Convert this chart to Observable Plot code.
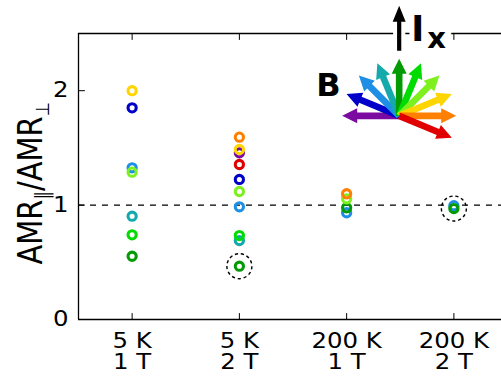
<!DOCTYPE html>
<html>
<head>
<meta charset="utf-8">
<script src="https://cdn.jsdelivr.net/npm/d3@7"></script>
<script src="https://cdn.jsdelivr.net/npm/@observablehq/plot@0.6"></script>
<style>
  html, body { margin: 0; padding: 0; background: #fff; overflow: hidden; }
</style>
</head>
<body>
<div id="chart"></div>
<script>
// Measurement conditions (temperature / field), one column each
const conditions = ["5 K\n1 T", "5 K\n2 T", "200 K\n1 T", "200 K\n2 T"];
const yTicks = [0, 1, 2];

// In-plane field directions, degrees counter-clockwise from the +x axis,
// and the colour used for each direction
const angles = [180, 157.5, 135, 112.5, 90, 67.5, 45, 22.5, 0, -22.5];
const angleColors = ["#7b0aa0", "#0000c8", "#1e8fe4", "#14a9ab", "#039b03",
                     "#00dc00", "#7ef020", "#ffd500", "#ff7f00", "#e00000"];

// AMR_parallel / AMR_perp for each condition, listed by field direction
const angles5K1T = [157.5, 135, 112.5, 90, 67.5, 45, 22.5];
const ratios5K1T = [1.85, 1.326, 0.903, 0.553, 0.74, 1.288, 2.0];

const angles5K2T = [180, 157.5, 135, 112.5, 90, 67.5, 45, 22.5, 0, -22.5];
const ratios5K2T = [1.457, 1.224, 0.985, 0.69, 0.466, 0.734, 1.119, 1.486, 1.594, 1.355];

const angles200K1T = [135, 90, 45, 0];
const ratios200K1T = [0.933, 0.976, 1.055, 1.099];

const angles200K2T = [135, 90];
const ratios200K2T = [0.995, 0.97];

// Points singled out with a dashed ring: [condition index, direction]
const flagged = [[2, 90], [4, 90]];

// ---- build the table ----
const columns = [
  [angles5K1T, ratios5K1T],
  [angles5K2T, ratios5K2T],
  [angles200K1T, ratios200K1T],
  [angles200K2T, ratios200K2T]
];
const points = columns.flatMap(([as, rs], i) =>
  as.map((a, j) => ({cond: i + 1, angle: a, ratio: rs[j]})));
// draw in direction order so later directions sit on top
points.sort((p, q) => angles.indexOf(p.angle) - angles.indexOf(q.angle));
const ringed = points.filter(p => flagged.some(([c, a]) => c === p.cond && a === p.angle));

// ---- vector shapes ----
function fatArrow(shaft, head, headLen) {
  return {
    draw(ctx, l) {
      const b = -(l - headLen);
      ctx.moveTo(-shaft, 0);
      ctx.lineTo(-shaft, b);
      ctx.lineTo(-head, b);
      ctx.lineTo(0, -l);
      ctx.lineTo(head, b);
      ctx.lineTo(shaft, b);
      ctx.lineTo(shaft, 0);
      ctx.closePath();
    }
  };
}
const tickShape = {draw(ctx, l) { ctx.moveTo(0, 0); ctx.lineTo(0, -l); }};

// origin of the field-direction sketch, in data units
const sketchX = 3.49, sketchY = 1.78;
const at = {x: () => sketchX, y: () => sketchY};

const chart = Plot.plot({
  width: 501,
  height: 381,
  marginLeft: 78,
  marginRight: 0,
  marginTop: 33,
  marginBottom: 62,
  style: {fontFamily: "DejaVu Sans", color: "black", background: "white"},
  x: {domain: [0.5, 4.5], range: [78, 507]},
  y: {domain: [0, 2.5]},
  color: {type: "ordinal", domain: angles, range: angleColors},
  marks: [
    // reference level
    Plot.ruleY([1], {stroke: "black", strokeWidth: 1.3, strokeDasharray: "6,6"}),

    // frame
    Plot.ruleY([0, 2.5], {stroke: "black", strokeWidth: 1.3}),
    Plot.ruleX([0.5, 4.5], {stroke: "black", strokeWidth: 1.3}),

    // inward ticks
    Plot.vector(yTicks, {y: d => d, frameAnchor: "left", rotate: 90, length: 6,
      anchor: "start", shape: tickShape, stroke: "black", strokeWidth: 1}),
    Plot.vector([1, 2, 3, 4], {x: d => d, frameAnchor: "bottom", rotate: 0, length: 6,
      anchor: "start", shape: tickShape, stroke: "black", strokeWidth: 1}),
    Plot.vector([1, 2, 3, 4], {x: d => d, frameAnchor: "top", rotate: 180, length: 6,
      anchor: "start", shape: tickShape, stroke: "black", strokeWidth: 1}),

    // axis labels
    Plot.axisY({ticks: yTicks, tickSize: 0, tickPadding: 10, fontSize: 20.7,
      tickFormat: d => String(d), label: null, className: "wide"}),
    Plot.axisX({ticks: [1, 2, 3, 4], tickSize: 0, tickPadding: 14, fontSize: 20.7,
      lineHeight: 1, tickFormat: i => conditions[i - 1], label: null, className: "wide"}),
    Plot.text(["AMR‖/AMR⊥"], {frameAnchor: "left", dx: -37, dy: 88, rotate: -90,
      textAnchor: "start", lineAnchor: "bottom", fontSize: 29, className: "ylab"}),

    // measurements
    Plot.dot(points, {x: "cond", y: "ratio", stroke: "angle", r: 4.1,
      strokeWidth: 3.1, fill: "none"}),
    Plot.dot(ringed, {x: "cond", y: "ratio", r: 12.5, stroke: "black",
      strokeWidth: 1.4, strokeDasharray: "3.2,2.8", fill: "none"}),

    // field-direction sketch
    Plot.vector(angles, {...at, rotate: a => 90 - a, length: 57, anchor: "start",
      shape: fatArrow(3.3, 7.5, 15), fill: a => a, stroke: "none"}),
    // current direction, with a white backing that breaks the frame line
    Plot.vector([0], {...at, dy: -65, length: 45, anchor: "start",
      shape: fatArrow(2.1, 6.5, 16), fill: "white", stroke: "white", strokeWidth: 8}),
    Plot.vector([0], {...at, dy: -65, length: 45, anchor: "start",
      shape: fatArrow(2.1, 6.5, 16), fill: "black", stroke: "none"}),
    Plot.text(["I"], {...at, dx: 12, dy: -75, textAnchor: "start", lineAnchor: "bottom",
      fontSize: 35, fontWeight: "bold", fill: "black", stroke: "white", strokeWidth: 10}),
    Plot.text(["x"], {...at, dx: 28, dy: -68, textAnchor: "start", lineAnchor: "bottom",
      fontSize: 29, fontWeight: "bold", fill: "black", stroke: "white", strokeWidth: 12}),
    Plot.text(["B"], {...at, dx: -83, dy: -20, textAnchor: "start", lineAnchor: "bottom",
      fontSize: 32, fontWeight: "bold", fill: "black"})
  ]
});

// subscripts on the y label
const ylab = d3.select(chart).select("g.ylab text");
if (!ylab.empty()) {
  ylab.text(null);
  ylab.append("tspan").text("AMR");
  ylab.append("tspan").attr("dy", 6).attr("font-size", 17).text("‖");
  ylab.append("tspan").attr("dy", -6).text("/AMR");
  ylab.append("tspan").attr("dy", 6).attr("font-size", 16).text("⊥");
}

// the axis lettering is set slightly wide
d3.select(chart).selectAll("g.wide text, g.ylab text").each(function () {
  const t = d3.select(this);
  const tr = t.attr("transform");
  if (tr) {
    const rot = tr.match(/rotate\([^)]*\)/);
    t.attr("transform", `${tr.replace(/ ?rotate\([^)]*\)/, "")} scale(1.18,1)${rot ? " " + rot[0] : ""}`);
  }
});

document.getElementById("chart").appendChild(chart);
</script>
</body>
</html>
